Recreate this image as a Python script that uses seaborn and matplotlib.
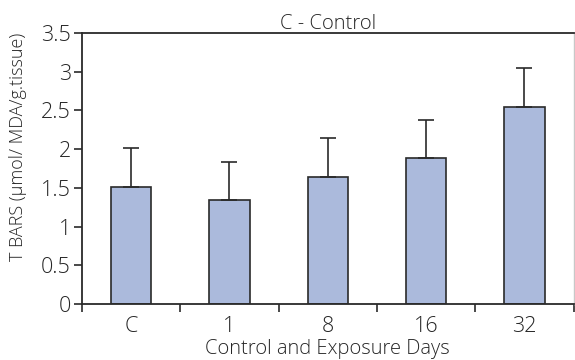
import numpy as np
import pandas as pd
import matplotlib
matplotlib.use("Agg")
import matplotlib.pyplot as plt
import seaborn as sns

days = ["C", "1", "8", "16", "32"]
tbars_mean = [1.51, 1.34, 1.64, 1.88, 2.55]
tbars_err = [0.50, 0.49, 0.50, 0.50, 0.50]

df = pd.DataFrame({"day": days, "tbars": tbars_mean})

sns.set_style("white")
plt.rcParams['font.family'] = ['Open Sans', 'DejaVu Sans']

fig = plt.figure(figsize=(5.75, 3.6), dpi=100)
ax = fig.add_axes([0.1426, 0.1556, 0.855, 0.7527])

sns.barplot(data=df, x="day", y="tbars", color="#abbadc", saturation=1,
            width=0.41, edgecolor="#2a2a2a", linewidth=1.2, ax=ax, errorbar=None)
pos = np.arange(len(days))
ax.errorbar(pos, tbars_mean, yerr=[np.zeros(len(days)), tbars_err], fmt="none",
            ecolor="#2a2a2a", elinewidth=1.2, capsize=5.5, capthick=1.2)

ax.set_xlim(-0.5, len(days) - 0.5)
ax.set_ylim(0, 3.5)
ax.set_yticks([0, 0.5, 1, 1.5, 2, 2.5, 3, 3.5])
ax.set_yticklabels(["0", "0.5", "1", "1.5", "2", "2.5", "3", "3.5"])
ax.set_xticks(pos)
ax.set_xticklabels(days)
ax.set_xticks(np.arange(-0.5, len(days)), minor=True)
ax.tick_params(axis="x", which="major", length=0, pad=9, labelsize=15.5)
ax.tick_params(axis="x", which="minor", length=6, width=1.2, color="#2a2a2a", direction="out", bottom=True)
ax.tick_params(axis="y", length=6, width=1.2, color="#2a2a2a", direction="out", left=True, labelsize=15.5, pad=2)
for lab in ax.get_xticklabels() + ax.get_yticklabels():
    lab.set_fontweight("light")

for s in ["left", "bottom", "top"]:
    ax.spines[s].set_color("#2a2a2a")
    ax.spines[s].set_linewidth(1.3)
ax.spines["right"].set_color("#c8c8c8")
ax.spines["right"].set_linewidth(1.0)

ax.set_title("C - Control", fontsize=14.5, pad=3, fontweight="light")
ax.set_xlabel("Control and Exposure Days", fontsize=14.5, labelpad=1, fontweight="light")
ax.set_ylabel("T BARS (μmol/ MDA/g.tissue)", fontsize=13, fontweight="light")
ax.yaxis.set_label_coords(-0.112, 0.58)

fig.savefig("out.png", dpi=100)
